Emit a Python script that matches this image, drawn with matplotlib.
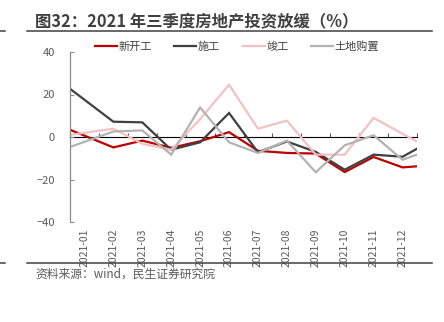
import matplotlib
matplotlib.use("Agg")
import matplotlib.pyplot as plt
from matplotlib.lines import Line2D

plt.rcParams['font.family'] = ['Noto Sans CJK SC', 'DejaVu Sans']

categories = ['2021-01', '2021-02', '2021-03', '2021-04', '2021-05', '2021-06',
              '2021-07', '2021-08', '2021-09', '2021-10', '2021-11', '2021-12']
# observation positions on the category axis (first at left edge, last at right edge)
x_obs = [-0.5, 1, 2, 3, 4, 5, 6, 7, 8, 9, 10, 11, 11.5]

xinkaigong = [3.4, -4.9, -1.7, -5.1, -2.0, 2.3, -6.5, -7.5, -7.8, -16.5, -9.4, -14.3, -13.8]
shigong = [22.7, 7.2, 6.9, -6.0, -2.5, 11.3, -7.2, -2.1, -7.0, -15.4, -8.3, -9.3, -5.5]
jungong = [1.0, 3.9, -3.2, -6.0, 8.4, 24.6, 3.9, 7.7, -8.3, -8.3, 9.0, 1.5, -2.1]
tudi = [-4.7, 2.6, 3.1, -8.3, 13.9, -2.5, -7.5, -1.7, -16.6, -3.9, 0.8, -10.7, -8.3]

series = [
    ('新开工', xinkaigong, '#C00000'),
    ('施工', shigong, '#404040'),
    ('竣工', jungong, '#F2C2C2'),
    ('土地购置', tudi, '#B3B3B3'),
]

W, H = 444, 322
fig = plt.figure(figsize=(W / 100, H / 100), dpi=100)
ax = fig.add_axes([70 / W, 1 - 222 / H, (417 - 70) / W, (222 - 52) / H])

for name, vals, col in series:
    ax.plot(x_obs, vals, color=col, lw=1.6, label=name, solid_joinstyle='miter')

ax.set_xlim(-0.5, len(categories) - 0.5)
ax.set_ylim(-40, 40)
ax.set_yticks([-40, -20, 0, 20, 40])
ax.tick_params(axis='y', direction='in', length=3, width=0.8, color='#8C8C8C',
               labelsize=8, labelcolor='#595959', pad=11)
ax.set_xticks(range(len(categories)))
ax.set_xticklabels(categories, rotation=90, fontsize=7.5, color='#595959')
ax.tick_params(axis='x', length=0, pad=5)

for s in ['top', 'right', 'bottom']:
    ax.spines[s].set_visible(False)
ax.spines['left'].set_color('#8C8C8C')
ax.spines['left'].set_linewidth(0.9)

# zero axis with boundary ticks
sec = ax.secondary_xaxis(0.5)
sec.set_xticks([i - 0.5 for i in range(len(categories) + 1)])
sec.tick_params(axis='x', direction='out', length=3, width=0.8, color='#595959',
                labelbottom=False, labeltop=False)
sec.spines['bottom'].set_color('#595959')
sec.spines['bottom'].set_linewidth(0.9)

leg = fig.legend(loc='center', bbox_to_anchor=(237 / W, 1 - 47 / H), ncol=4,
                 frameon=False, fontsize=8, handlelength=2.0, handletextpad=0.15,
                 columnspacing=2.0, labelcolor='#404040')

fig.text(35 / W, 1 - 22 / H, '图32：2021 年三季度房地产投资放缓（%）', fontsize=11.8,
         fontweight='bold', color='#404040', ha='left', va='center')
fig.text(35 / W, 1 - 274 / H, '资料来源：wind，民生证券研究院', fontsize=8.5,
         color='#595959', ha='left', va='center')

for yy in [31, 263]:
    fig.add_artist(Line2D([27 / W, 432 / W], [1 - yy / H, 1 - yy / H],
                          color='#404040', lw=1.1))
    fig.add_artist(Line2D([0, 5 / W], [1 - yy / H, 1 - yy / H],
                          color='#404040', lw=1.1))

fig.savefig('out.png', dpi=100)
